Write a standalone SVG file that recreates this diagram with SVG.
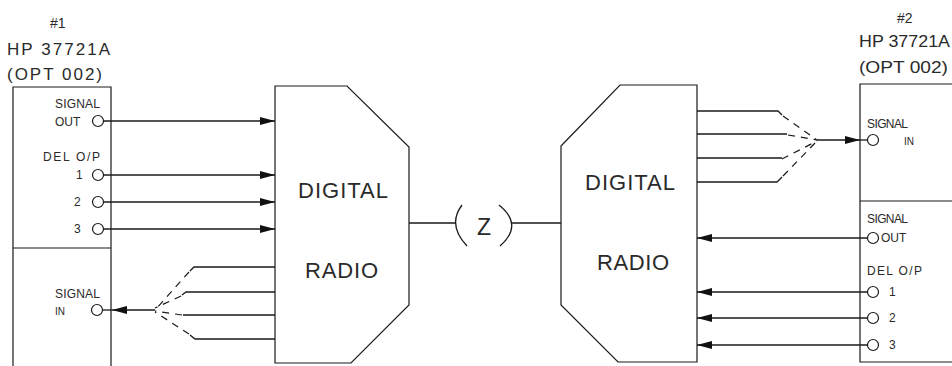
<svg xmlns="http://www.w3.org/2000/svg" width="952" height="366" viewBox="0 0 952 366">
<style>
.ln{fill:none;stroke:#1a1a1a;stroke-width:1.3}
.bx{fill:none;stroke:#1a1a1a;stroke-width:1.2}
.ds{fill:none;stroke:#1a1a1a;stroke-width:1.2;stroke-dasharray:7 6}
.pt{fill:#fff;stroke:#1a1a1a;stroke-width:1.2}
.t{font-family:"Liberation Sans",Arial,sans-serif;fill:#2a2a2a}
.hd{font-size:17px}
.sm{font-size:12px}
.xs{font-size:10px}
.big{font-size:22px}
</style>
<defs>
<marker id="ah" viewBox="0 0 15 8" refX="15" refY="4" markerWidth="15" markerHeight="8" markerUnits="userSpaceOnUse" orient="auto">
<path d="M0,0 L15,4 L0,8 z" fill="#111"/>
</marker>
</defs>
<rect width="952" height="366" fill="#fff"/>

<g id="tester1">
<text class="t" x="50" y="28" font-size="14">#1</text>
<text class="t hd" x="7" y="55" textLength="103" lengthAdjust="spacing">HP 37721A</text>
<text class="t hd" x="7" y="80" textLength="95" lengthAdjust="spacing">(OPT 002)</text>
<path class="bx" d="M13,367 V87 H111 V367 M13,248 H111"/>
<text class="t sm" x="55" y="108" textLength="45" lengthAdjust="spacing">SIGNAL</text>
<text class="t sm" x="55" y="126">OUT</text>
<text class="t sm" x="43" y="161" textLength="57" lengthAdjust="spacing">DEL O/P</text>
<text class="t sm" x="76" y="179">1</text>
<text class="t sm" x="74" y="206">2</text>
<text class="t sm" x="74" y="233">3</text>
<text class="t sm" x="55" y="298" textLength="45" lengthAdjust="spacing">SIGNAL</text>
<text class="t xs" x="55" y="315">IN</text>
</g>

<g id="radio1">
<path class="bx" d="M275,86 H347 L409,147 V305 L351,363 H275 Z"/>
<text class="t big" x="298" y="198" textLength="90" lengthAdjust="spacing">DIGITAL</text>
<text class="t big" x="305" y="278" textLength="73" lengthAdjust="spacing">RADIO</text>
</g>

<g id="path-z">
<path class="ln" d="M462,205 Q447,225 467,246 M499,205 Q524,225 500,246"/>
<text class="t" x="484" y="235" font-size="23" text-anchor="middle">Z</text>
</g>

<g id="radio2">
<path class="bx" d="M561,146 L620,85 H697 V362 H618 L561,305 Z"/>
<text class="t big" x="585" y="190" textLength="90" lengthAdjust="spacing">DIGITAL</text>
<text class="t big" x="597" y="270" textLength="72" lengthAdjust="spacing">RADIO</text>
</g>

<g id="tester2">
<text class="t" x="897" y="23" font-size="14">#2</text>
<text class="t" x="859" y="47" font-size="16" textLength="91" lengthAdjust="spacingAndGlyphs">HP 37721A</text>
<text class="t" x="859" y="73" font-size="16" textLength="89" lengthAdjust="spacingAndGlyphs">(OPT 002)</text>
<path class="bx" d="M953,84 H860 V362 H953 M860,201 H953"/>
<text class="t sm" x="867" y="128" textLength="41" lengthAdjust="spacing">SIGNAL</text>
<text class="t xs" x="904" y="145">IN</text>
<text class="t sm" x="867" y="223" textLength="41" lengthAdjust="spacing">SIGNAL</text>
<text class="t sm" x="881" y="242">OUT</text>
<text class="t sm" x="867" y="275" textLength="55" lengthAdjust="spacing">DEL O/P</text>
<text class="t sm" x="889" y="296">1</text>
<text class="t sm" x="889" y="322">2</text>
<text class="t sm" x="889" y="349">3</text>
</g>

<g id="connectors">
<path class="ln" d="M104,121 H275" marker-end="url(#ah)"/>
<path class="ln" d="M104,175 H275" marker-end="url(#ah)"/>
<path class="ln" d="M104,202 H275" marker-end="url(#ah)"/>
<path class="ln" d="M104,229 H275" marker-end="url(#ah)"/>
<path class="ln" d="M155,310 H112" marker-end="url(#ah)"/>
<path class="ln" d="M112,310 H103"/>
<path class="ln" d="M275,267 H194 L190,271 M275,292 H186 L182,295 M275,315 H183 M275,339 H195 L190,335"/>
<path class="ds" d="M189,272 L155,310 M181,296 L155,308 M182,315 L155,311 M189,334 L155,312"/>
<path class="ln" d="M409,223 H456 M512,223 H561"/>
<path class="ln" d="M697,111 H778 L782,115 M697,134 H787 M697,158 H782 M697,182 H777 L782,177"/>
<path class="ds" d="M783,116 L817,140 M788,135 L817,140 M782,159 L817,141 M783,176 L817,141"/>
<path class="ln" d="M817,140 H860" marker-end="url(#ah)"/>
<path class="ln" d="M860,140 H868"/>
<path class="ln" d="M867,238 H697" marker-end="url(#ah)"/>
<path class="ln" d="M867,292 H697" marker-end="url(#ah)"/>
<path class="ln" d="M867,318 H697" marker-end="url(#ah)"/>
<path class="ln" d="M867,345 H697" marker-end="url(#ah)"/>
</g>

<g id="ports">
<circle class="pt" cx="98" cy="121" r="5.5"/>
<circle class="pt" cx="98" cy="175" r="5.5"/>
<circle class="pt" cx="98" cy="202" r="5.5"/>
<circle class="pt" cx="98" cy="229" r="5.5"/>
<circle class="pt" cx="97" cy="310" r="5.5"/>
<circle class="pt" cx="873" cy="140" r="5.5"/>
<circle class="pt" cx="873" cy="238" r="5.5"/>
<circle class="pt" cx="873" cy="292" r="5.5"/>
<circle class="pt" cx="873" cy="318" r="5.5"/>
<circle class="pt" cx="873" cy="345" r="5.5"/>
</g>
</svg>
